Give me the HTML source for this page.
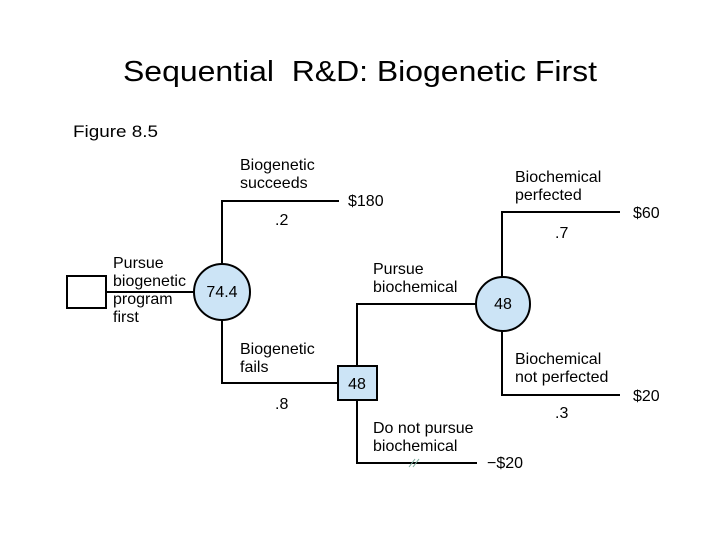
<!DOCTYPE html>
<html><head><meta charset="utf-8"><style>
html,body{margin:0;padding:0;background:#fff;}
svg{display:block;font-family:"Liberation Sans",Arial,sans-serif;}
</style></head><body>
<svg width="720" height="540" viewBox="0 0 720 540" xmlns="http://www.w3.org/2000/svg">
<text x="123" y="81" font-size="29" textLength="474" lengthAdjust="spacingAndGlyphs" fill="#000">Sequential&#160; R&amp;D: Biogenetic First</text>
<text x="73" y="137" font-size="17" textLength="85" lengthAdjust="spacingAndGlyphs" fill="#000">Figure 8.5</text>
<g stroke="#000" stroke-width="2" fill="none">
<rect x="67" y="276" width="39" height="32" fill="#fff"/>
<line x1="106" y1="292" x2="195" y2="292"/>
<polyline points="222,264 222,201 339,201"/>
<polyline points="222,320 222,383 338,383"/>
<polyline points="357,366 357,304 476,304"/>
<polyline points="357,400 357,463 477,463"/>
<polyline points="502,277 502,212 620,212"/>
<polyline points="502,331 502,395 620,395"/>
<circle cx="222" cy="292" r="28" fill="#cce4f6"/>
<circle cx="503" cy="304" r="27" fill="#cce4f6"/>
<rect x="338" y="366" width="39" height="34" fill="#cce4f6"/>
</g>
<g stroke="#7a9" stroke-width="1"><line x1="409" y1="467" x2="415" y2="459"/><line x1="413" y1="467" x2="419" y2="459"/></g>
<g font-size="16" fill="#000">
<text x="222" y="297" text-anchor="middle">74.4</text>
<text x="503" y="309" text-anchor="middle">48</text>
<text x="357" y="389" text-anchor="middle">48</text>
<text x="113" y="268">Pursue</text>
<text x="113" y="286">biogenetic</text>
<text x="113" y="304">program</text>
<text x="113" y="322">first</text>
<text x="240" y="170">Biogenetic</text>
<text x="240" y="188">succeeds</text>
<text x="275" y="225">.2</text>
<text x="348" y="206">$180</text>
<text x="240" y="354">Biogenetic</text>
<text x="240" y="372">fails</text>
<text x="275" y="409">.8</text>
<text x="373" y="274">Pursue</text>
<text x="373" y="292">biochemical</text>
<text x="373" y="433">Do not pursue</text>
<text x="373" y="451">biochemical</text>
<text x="487" y="468">−$20</text>
<text x="515" y="182">Biochemical</text>
<text x="515" y="200">perfected</text>
<text x="555" y="238">.7</text>
<text x="633" y="218">$60</text>
<text x="515" y="364">Biochemical</text>
<text x="515" y="382">not perfected</text>
<text x="555" y="418">.3</text>
<text x="633" y="401">$20</text>
</g>
</svg>
</body></html>
